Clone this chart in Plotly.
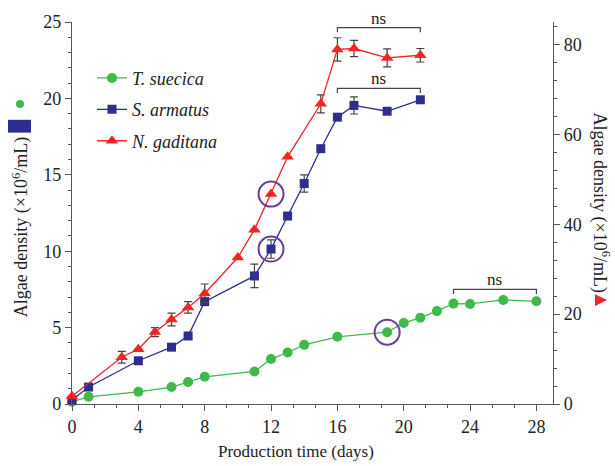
import plotly.graph_objects as go

# ---------------- data ----------------
days_ts = [0, 1, 4, 6, 7, 8, 11, 12, 13, 14, 16, 19, 20, 21, 22, 23, 24, 26, 28]
dens_ts = [0.15, 0.47, 0.80, 1.11, 1.44, 1.78, 2.13, 2.94, 3.37, 3.87, 4.40, 4.70, 5.30, 5.65, 6.08, 6.57, 6.55, 6.81, 6.72]

days_sa = [0, 1, 4, 6, 7, 8, 11, 12, 13, 14, 15, 16, 17, 19, 21]
dens_sa = [0.26, 1.11, 2.83, 3.72, 4.45, 6.70, 8.38, 10.14, 12.30, 14.43, 16.71, 18.77, 19.54, 19.16, 19.91]
err_sa = [0, 0, 0, 0, 0, 0, 0.77, 0.60, 0, 0.56, 0, 0, 0.56, 0, 0]

days_ng = [0, 3, 4, 5, 6, 7, 8, 10, 11, 12, 13, 15, 16, 17, 19, 21]
dens_ng = [1.7, 10.4, 12.2, 16.0, 18.8, 21.5, 24.6, 32.6, 38.8, 46.7, 55.0, 66.8, 78.9, 79.1, 77.0, 77.6]
err_ng = [0, 1.3, 0, 1.0, 1.4, 1.3, 2.1, 0, 0, 0, 0, 2.0, 2.6, 1.8, 2.0, 1.5]

names = ["T. suecica", "S. armatus", "N. gaditana"]
x_ticks = [0, 4, 8, 12, 16, 20, 24, 28]

# significance brackets: (start day, end day, left-axis y)
ns_brackets = [(16, 21, 24.63), (16, 21, 20.66), (23, 28, 7.50)]
# highlighted points: (series, index)
highlights = [("ng", 9), ("sa", 7), ("ts", 11)]

GREEN = "#3dba4a"
BLUE = "#2f2c92"
RED = "#f02525"
PURPLE = "#6a3d9a"
AX = "#555555"
FONT = "Liberation Serif, Times New Roman, serif"

# plot-area pixel geometry
W, H = 615, 466
PX0, PX1, PY0, PY1 = 72, 553, 404.5, 16.7


def px(xp):
    return (xp - PX0) / (PX1 - PX0)


def py(yp):
    return (PY0 - yp) / (PY0 - PY1)


fig = go.Figure()
fig.add_trace(go.Scatter(
    x=days_ts, y=dens_ts, name=names[0], mode="lines+markers", legendgroup="a",
    line=dict(color=GREEN, width=1.3), marker=dict(symbol="circle", size=10, color=GREEN),
    cliponaxis=False))
fig.add_trace(go.Scatter(
    x=days_sa, y=dens_sa, name=names[1], mode="lines+markers", legendgroup="b",
    line=dict(color=BLUE, width=1.3), marker=dict(symbol="square", size=9, color=BLUE),
    error_y=dict(type="data", array=err_sa, color="#444444", thickness=1.2, width=4),
    cliponaxis=False))
fig.add_trace(go.Scatter(
    x=days_ng, y=dens_ng, name=names[2], mode="lines+markers", legendgroup="c", yaxis="y2",
    line=dict(color=RED, width=1.3), marker=dict(symbol="triangle-up", size=11, color=RED),
    error_y=dict(type="data", array=err_ng, color="#444444", thickness=1.2, width=4),
    cliponaxis=False))

shapes = []
annotations = []

# ns brackets
for (a, b, yv) in ns_brackets:
    drop = 0.3
    shapes.append(dict(type="path", xref="x", yref="y",
                       path=f"M {a},{yv - drop} L {a},{yv} L {b},{yv} L {b},{yv - drop}",
                       line=dict(color="#444444", width=1.2)))
    annotations.append(dict(x=(a + b) / 2, y=yv, xref="x", yref="y", text="ns", showarrow=False,
                            xanchor="center", yanchor="bottom", yshift=-2,
                            font=dict(family=FONT, size=17, color="#222")))

# highlighted circles
series = {"ts": (days_ts, dens_ts, "y"), "sa": (days_sa, dens_sa, "y"), "ng": (days_ng, dens_ng, "y2")}
for key, i in highlights:
    xs, ys, yr = series[key]
    shapes.append(dict(type="circle", xref="x", yref=yr, xsizemode="pixel", ysizemode="pixel",
                       xanchor=xs[i], yanchor=ys[i], x0=-12.5, x1=12.5, y0=-12.5, y1=12.5,
                       line=dict(color=PURPLE, width=2)))

# left title with symbols
annotations.append(dict(x=px(21), y=py(225), xref="paper", yref="paper", textangle=-90,
                        xanchor="center", yanchor="middle",
                        text="Algae density (×10<sup>6</sup>/mL)", showarrow=False,
                        font=dict(family=FONT, size=18, color="#222")))
shapes.append(dict(type="rect", xref="paper", yref="paper", x0=px(8), x1=px(31), y0=py(129), y1=py(116),
                   fillcolor=BLUE, line=dict(width=0)))
shapes.append(dict(type="circle", xref="paper", yref="paper", x0=px(16), x1=px(24), y0=py(104), y1=py(96),
                   fillcolor=GREEN, line=dict(width=0)))

# right title with symbol
annotations.append(dict(x=px(601), y=py(200), xref="paper", yref="paper", textangle=90,
                        xanchor="center", yanchor="middle",
                        text="Algae density (×10<sup>6</sup>/mL)", showarrow=False,
                        font=dict(family=FONT, size=18, color="#222")))
shapes.append(dict(type="path", xref="paper", yref="paper",
                   path=f"M {px(595)},{py(293)} L {px(607)},{py(299)} L {px(595)},{py(305)} Z",
                   fillcolor=RED, line=dict(width=0)))

# x title
annotations.append(dict(x=px(296), y=py(453), xref="paper", yref="paper",
                        xanchor="center", yanchor="middle",
                        text="Production time (days)", showarrow=False,
                        font=dict(family=FONT, size=17, color="#222")))

axis_common = dict(showline=True, linecolor=AX, linewidth=1.3, ticks="outside", ticklen=6,
                   tickcolor=AX, tickwidth=1.2, showgrid=False, zeroline=False,
                   tickfont=dict(family=FONT, size=18, color="#222"))

fig.update_layout(
    width=W, height=H,
    margin=dict(l=PX0, r=W - PX1, t=PY1, b=H - PY0),
    plot_bgcolor="white", paper_bgcolor="white",
    xaxis=dict(range=[0, 29], tickvals=x_ticks,
               minor=dict(dtick=4 / 3, tick0=0, ticks="outside", ticklen=3, tickcolor=AX, tickwidth=1),
               **axis_common),
    yaxis=dict(range=[0, 25], dtick=5,
               minor=dict(dtick=1, ticks="outside", ticklen=3, tickcolor=AX, tickwidth=1),
               **axis_common),
    yaxis2=dict(range=[0, 85], dtick=20, overlaying="y", side="right", anchor="x",
                minor=dict(dtick=4, ticks="outside", ticklen=3, tickcolor=AX, tickwidth=1),
                **axis_common),
    legend=dict(x=px(92), y=py(55), xanchor="left", yanchor="top", traceorder="grouped",
                tracegroupgap=5, bgcolor="rgba(0,0,0,0)",
                font=dict(family=FONT, size=18, color="#222", style="italic")),
    shapes=shapes, annotations=annotations,
)

fig.write_html("out.html")
